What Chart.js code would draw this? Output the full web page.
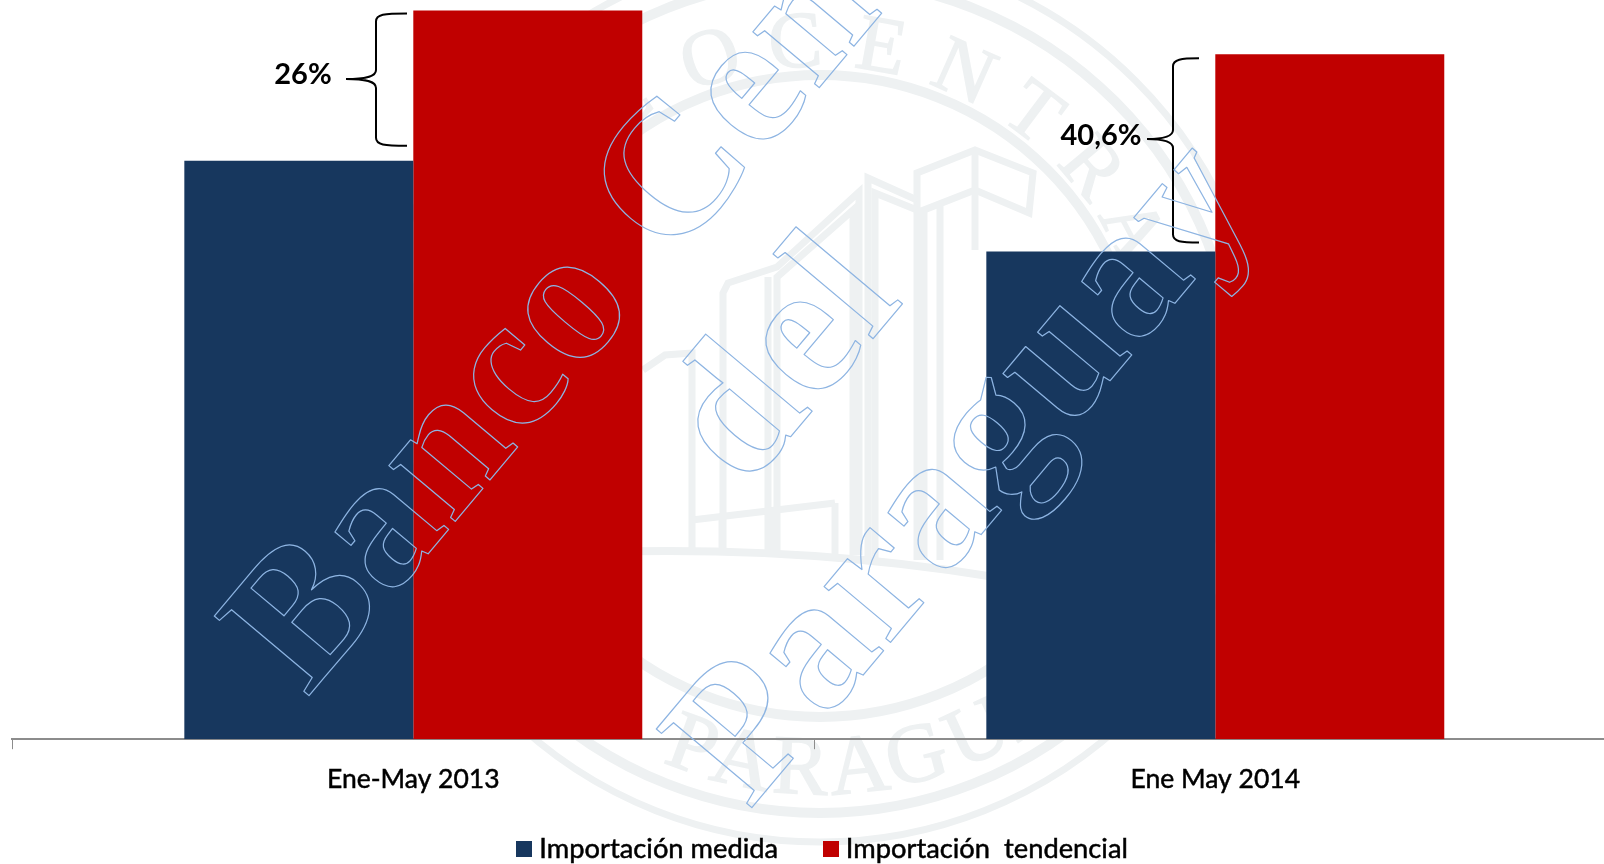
<!DOCTYPE html>
<html lang="es">
<head>
<meta charset="utf-8">
<title>Importación medida y tendencial</title>
<script src="https://cdn.jsdelivr.net/npm/chart.js@4"></script>
<style>
html,body{margin:0;padding:0;width:1604px;height:864px;overflow:hidden;background:#fff}
#c{display:block}
</style>
</head>
<body>
<canvas id="c" width="1667" height="886"></canvas>
<script>
const categories = ['Ene-May 2013', 'Ene May 2014'];
const seriesNames = ['Importación medida', 'Importación  tendencial'];
const medida = [100, 84.3];
const tendencial = [126, 118.4];
const growthLabels = ['26%', '40,6%'];
const seriesColors = ['#17375E', '#C00000'];
const yMax = 127.8;
const watermarkLines = ['Banco Central', 'del', 'Paraguay'];
const sealTop = ['B','A','N','C','O','C','E','N','T','R','A','L'];
const sealTopAngles = [-76,-62,-48,-34,-18,-4,10,24,37,50,62,74];
const sealBottom = ['P','A','R','A','G','U','A','Y'];
const sealBottomAngles = [-20,-12,-3,6,15,25,34,43];

const FONT = 'Lato, "Open Sans", sans-serif';

function swatch(color){
  const s = document.createElement('canvas');
  s.width = 16; s.height = 16;
  const g = s.getContext('2d');
  g.fillStyle = color; g.fillRect(0,0,16,16);
  return s;
}

const legendPlacePlugin = {
  id:'legendPlace',
  afterLayout(chart){
    const l = chart.legend;
    l.top -= 13.5; l.bottom -= 13.5; l.left += 11; l.right += 11;
    if (!l._heavy) {
      l._heavy = true;
      const draw = l.draw;
      l.draw = function(){
        const ctx = this.ctx, fill = ctx.fillText;
        ctx.fillText = function(t,x,y){
          fill.call(ctx,t,x,y);
          ctx.save(); ctx.strokeStyle = '#000'; ctx.lineWidth = 0.5; ctx.strokeText(t,x,y); ctx.restore();
        };
        draw.apply(this, arguments);
        delete ctx.fillText;
      };
    }
  }
};

const sealPlugin = {
  id:'seal',
  beforeDraw(chart){
    const ctx = chart.ctx, cx = 820, cy = 396, col = '#eef1f2';
    ctx.save();
    ctx.strokeStyle = col; ctx.fillStyle = col; ctx.lineJoin='miter';
    [[321,10],[417,10],[446,7]].forEach(([r,w])=>{
      ctx.lineWidth = w; ctx.beginPath(); ctx.arc(cx,cy,r,0,Math.PI*2); ctx.stroke();
    });
    ctx.font = '80px "Liberation Serif", serif';
    ctx.textAlign = 'center'; ctx.textBaseline = 'alphabetic';
    ctx.lineWidth = 1.5;
    sealTop.forEach((ch,i)=>{
      const a = sealTopAngles[i]*Math.PI/180;
      ctx.save(); ctx.translate(cx,cy); ctx.rotate(a); ctx.translate(0,-330);
      ctx.fillText(ch,0,0); ctx.strokeText(ch,0,0); ctx.restore();
    });
    ctx.font = '84px "Liberation Serif", serif';
    sealBottom.forEach((ch,i)=>{
      const a = sealBottomAngles[i]*Math.PI/180;
      ctx.save(); ctx.translate(cx,cy); ctx.rotate(-a); ctx.translate(0,398);
      ctx.fillText(ch,0,0); ctx.strokeText(ch,0,0); ctx.restore();
    });
    const paths = [
      [[917,560],[917,173],[975,150],[1033,173],[1029,213],[975,190],[924,210],[924,560]],
      [[975,150],[975,250]],[[940,205],[940,560]],
      [[868,560],[868,178],[917,200]],[[875,560],[875,193],[917,210]],
      [[859,555],[859,192],[777,267],[728,283],[723,293],[723,555]],
      [[853,555],[853,210],[777,277],[777,555]],[[768,277],[768,555]],
      [[643,370],[665,355],[692,353],[692,555]],
      [[692,520],[835,503]],[[722,516],[722,555]],[[772,510],[772,555]],[[835,503],[835,555]]
    ];
    ctx.lineWidth = 7;
    paths.forEach(p=>{
      ctx.beginPath(); p.forEach(([x,y],i)=> i?ctx.lineTo(x,y):ctx.moveTo(x,y)); ctx.stroke();
    });
    ctx.lineWidth = 8;
    ctx.beginPath(); ctx.moveTo(600,552); ctx.quadraticCurveTo(830,545,1040,585); ctx.stroke();
    ctx.restore();
  }
};

function brace(ctx, spineX, tipX, endX, top, bottom, tipY){
  ctx.beginPath();
  ctx.moveTo(endX, top);
  ctx.bezierCurveTo(spineX+8, top, spineX, top+1, spineX, top+8);
  ctx.lineTo(spineX, tipY-9);
  ctx.bezierCurveTo(spineX, tipY-3, spineX-8, tipY, tipX, tipY);
  ctx.bezierCurveTo(spineX-8, tipY, spineX, tipY+3, spineX, tipY+9);
  ctx.lineTo(spineX, bottom-8);
  ctx.bezierCurveTo(spineX, bottom-1, spineX+8, bottom, endX, bottom);
  ctx.stroke();
}

const annotationPlugin = {
  id:'annot',
  afterDatasetsDraw(chart){
    const ctx = chart.ctx, y = chart.scales.y;
    const t1 = y.getPixelForValue(tendencial[0])+3, b1 = y.getPixelForValue(medida[0])-15;
    const t2 = y.getPixelForValue(tendencial[1])+4, b2 = y.getPixelForValue(medida[1])-9;
    ctx.save();
    ctx.strokeStyle = '#000'; ctx.lineWidth = 2;
    brace(ctx,376,346,407,t1,b1,79);
    brace(ctx,1173,1147,1199,t2,b2,139);
    ctx.fillStyle = '#000';
    ctx.font = 'bold 29px Lato, sans-serif';
    ctx.textAlign = 'center'; ctx.textBaseline = 'middle';
    ctx.fillText(growthLabels[0],303,75);
    ctx.fillText(growthLabels[1],1101,136);
    ctx.restore();
  }
};

const watermarkPlugin = {
  id:'watermark',
  afterDraw(chart){
    const ctx = chart.ctx;
    const origins = [[307,698],[746,490],[749,811]];
    ctx.save();
    ctx.strokeStyle = '#8DB4E2'; ctx.lineWidth = 1.2;
    ctx.font = 'bold 189px "Liberation Serif", serif';
    ctx.letterSpacing = '2.5px';
    ctx.textAlign='left'; ctx.textBaseline='alphabetic'; ctx.lineJoin='round';
    watermarkLines.forEach((t,i)=>{
      ctx.save();
      ctx.translate(origins[i][0],origins[i][1]);
      ctx.rotate(-50*Math.PI/180);
      ctx.strokeText(t,0,0);
      ctx.restore();
    });
    ctx.restore();
  }
};

new Chart(document.getElementById('c'),{
  type:'bar',
  data:{
    labels:categories,
    datasets:[
      {label:seriesNames[0],data:medida,backgroundColor:seriesColors[0]},
      {label:seriesNames[1],data:tendencial,backgroundColor:seriesColors[1]}
    ]
  },
  options:{
    responsive:false,
    animation:false,
    events:[],
    barPercentage:1,
    categoryPercentage:0.571,
    layout:{padding:{left:12.3,right:50.7,top:0,bottom:0}},
    plugins:{
      title:{display:false},
      tooltip:{enabled:false},
      legend:{
        position:'bottom',
        labels:{
          color:'#000',
          font:{family:FONT,size:27.3},
          padding:51,
          usePointStyle:true,
          pointStyleWidth:3,
          boxHeight:16,
          generateLabels(chart){
            return Chart.defaults.plugins.legend.labels.generateLabels(chart).map((l,i)=>{
              l.pointStyle = swatch(seriesColors[i]);
              return l;
            });
          }
        }
      }
    },
    scales:{
      x:{
        afterFit(s){ s.height = 58.5; },
        border:{display:true,color:'#8c8c8c',width:2},
        grid:{display:true,drawOnChartArea:false,drawTicks:true,tickLength:10,color:'#8c8c8c',lineWidth:1},
        ticks:{color:'#000',font:{family:FONT,size:26.5},padding:14,maxRotation:0,textStrokeColor:'#000',textStrokeWidth:0.5}
      },
      y:{display:false,min:0,max:yMax}
    }
  },
  plugins:[legendPlacePlugin,sealPlugin,annotationPlugin,watermarkPlugin]
});
</script>
</body>
</html>
